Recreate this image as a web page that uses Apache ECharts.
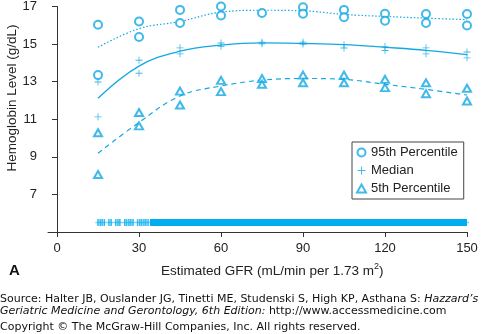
<!DOCTYPE html>
<html><head><meta charset="utf-8">
<script src="https://cdn.jsdelivr.net/npm/echarts@6/dist/echarts.min.js"></script>
<style>html,body{margin:0;padding:0;background:#fff}#c{width:488px;height:334px}</style>
</head><body><div id="c"></div>
<script>
const gfr = [15, 30, 45, 60, 75, 90, 105, 120, 135, 150];
const p95a = [16.03, 16.2, 16.82, 17.0, 17.04, 16.96, 16.82, 16.61, 16.6, 16.6];
const p95b = [13.35, 15.38, 16.12, 16.52, 16.65, 16.61, 16.43, 16.24, 16.12, 15.99];
const meda = [12.98, 14.14, 14.8, 15.06, 15.1, 15.1, 14.97, 14.88, 14.8, 14.58];
const medb = [11.13, 13.45, 14.48, 14.88, 15.02, 15.0, 14.79, 14.66, 14.48, 14.27];
const p5a = [10.28, 11.36, 12.5, 13.07, 13.17, 13.35, 13.35, 13.12, 12.94, 12.65];
const p5b = [8.06, 10.65, 11.76, 12.47, 12.86, 12.94, 12.94, 12.68, 12.36, 11.97];
const fit95 = [14.83, 15.82, 16.2, 16.7, 16.8, 16.77, 16.58, 16.47, 16.38, 16.3];
const fitMed = [12.12, 13.83, 14.62, 14.94, 15.06, 15.03, 14.97, 14.83, 14.67, 14.44];
const fit5 = [9.19, 10.83, 12.24, 12.77, 13.08, 13.17, 13.12, 12.86, 12.59, 12.29];
const rugTicks = [15, 15.8, 16.5, 17.3, 19, 19.8, 21.5, 22.3, 23, 24.8, 25.5, 26.3, 27, 27.8, 29.5, 30.3, 31, 31.8, 32.5, 33.3];
const rugDense = [34, 150];
const rugLevel = 5.5;
const xTicks = [0, 30, 60, 90, 120, 150];
const yTicks = [7, 9, 11, 13, 15, 17];
const legendNames = ['95th Percentile', 'Median', '5th Percentile'];

const C = '#12a8e4';
const plusPath = 'path://M4.4,0H5.6V4.4H10V5.6H5.6V10H4.4V5.6H0V4.4H4.4Z';
const pair = (xs, ys) => xs.map((x, i) => [x, ys[i]]);
const both = (a, b) => pair(gfr, a).concat(pair(gfr, b));
const FONT = '"Liberation Sans", Arial, sans-serif';

const chart = echarts.init(document.getElementById('c'), null, {renderer: 'canvas'});
chart.setOption({
  animation: false,
  textStyle: {fontFamily: FONT},
  grid: {left: 48, top: 5, width: 419, height: 227, containLabel: false},
  xAxis: {
    type: 'value', min: -3.3, max: 150,
    splitLine: {show: false},
    axisLine: {show: true, lineStyle: {color: '#333', width: 1}},
    axisTick: {show: true, length: 5, customValues: xTicks, lineStyle: {color: '#333'}},
    axisLabel: {customValues: xTicks, color: '#222', fontSize: 13, margin: 10}
  },
  yAxis: {
    type: 'value', min: 5, max: 17,
    splitLine: {show: false},
    axisLine: {show: true, lineStyle: {color: '#333', width: 1}},
    axisTick: {show: true, length: 5, customValues: yTicks, lineStyle: {color: '#333'}},
    axisLabel: {customValues: yTicks, color: '#222', fontSize: 13, margin: 11}
  },
  legend: {
    data: legendNames,
    orient: 'vertical',
    left: 352, top: 142,
    width: 115,
    padding: [4, 6, 4, 4],
    itemGap: 5,
    itemWidth: 9, itemHeight: 8,
    borderColor: '#444', borderWidth: 1, borderRadius: 0,
    textStyle: {color: '#222', fontSize: 13},
    selectedMode: false
  },
  series: [
    {name: '95th Percentile', type: 'scatter', data: both(p95a, p95b), symbol: 'emptyCircle', symbolSize: 8,
     itemStyle: {color: C, borderColor: C, borderWidth: 1.2}, z: 3},
    {name: 'Median', type: 'scatter', data: both(meda, medb), symbol: plusPath, symbolSize: 7,
     itemStyle: {color: C}, z: 3},
    {name: '5th Percentile', type: 'scatter', data: both(p5a, p5b), symbol: 'emptyTriangle', symbolSize: [8, 7],
     itemStyle: {color: C, borderColor: C, borderWidth: 1.1}, z: 3},
    {type: 'line', data: pair(gfr, fit95), smooth: 0.4, showSymbol: false, lineStyle: {color: C, width: 1.2, type: [1.5, 2]}, z: 2},
    {type: 'line', data: pair(gfr, fitMed), smooth: 0.4, showSymbol: false, lineStyle: {color: C, width: 1.3}, z: 2},
    {type: 'line', data: pair(gfr, fit5), smooth: 0.4, showSymbol: false, lineStyle: {color: C, width: 1.2, type: [5, 4]}, z: 2},
    {type: 'line', data: [[14, rugLevel], [151, rugLevel]], showSymbol: false, lineStyle: {color: '#7fd3f5', width: 1.5}, z: 1},
    {type: 'line', data: rugDense.map(x => [x, rugLevel]), showSymbol: false, lineStyle: {color: '#00aeef', width: 7, cap: 'butt'}, z: 2},
    {type: 'scatter', data: rugTicks.map(x => [x, rugLevel]), symbol: 'rect', symbolSize: [1.6, 7], itemStyle: {color: '#00aeef'}, z: 2}
  ],
  graphic: [
    {type: 'text', x: 12, y: 98, rotation: Math.PI / 2, style: {text: 'Hemoglobin Level (g/dL)', font: '13.5px ' + FONT, fill: '#222', align: 'center', verticalAlign: 'middle'}},
    {type: 'text', x: 161, y: 271, style: {text: 'Estimated GFR (mL/min per 1.73 m{s|2})', font: '13.5px ' + FONT, fill: '#222', align: 'left', verticalAlign: 'middle',
      rich: {s: {fontSize: 9, fontFamily: 'Liberation Sans', verticalAlign: 'top', padding: [0, 0, 8, 0], fill: '#222'}}}},
    {type: 'text', x: 9, y: 271, style: {text: 'A', font: 'bold 15px ' + FONT, fill: '#111', verticalAlign: 'middle'}},
    {type: 'text', x: 0, y: 293, style: {
      text: 'Source: Halter JB, Ouslander JG, Tinetti ME, Studenski S, High KP, Asthana S: {i|Hazzard\u2019s}\n{i|Geriatric Medicine and Gerontology, 6th Edition:} http://www.accessmedicine.com',
      font: '11px "DejaVu Sans", sans-serif', fill: '#111', lineHeight: 12,
      rich: {i: {fontStyle: 'italic', fontSize: 11, fontFamily: 'DejaVu Sans', fill: '#111'}}}},
    {type: 'text', x: 0, y: 322, style: {text: 'Copyright \u00a9 The McGraw-Hill Companies, Inc. All rights reserved.',
      font: '11px "DejaVu Sans", sans-serif', fill: '#111'}}
  ]
});
</script></body></html>
